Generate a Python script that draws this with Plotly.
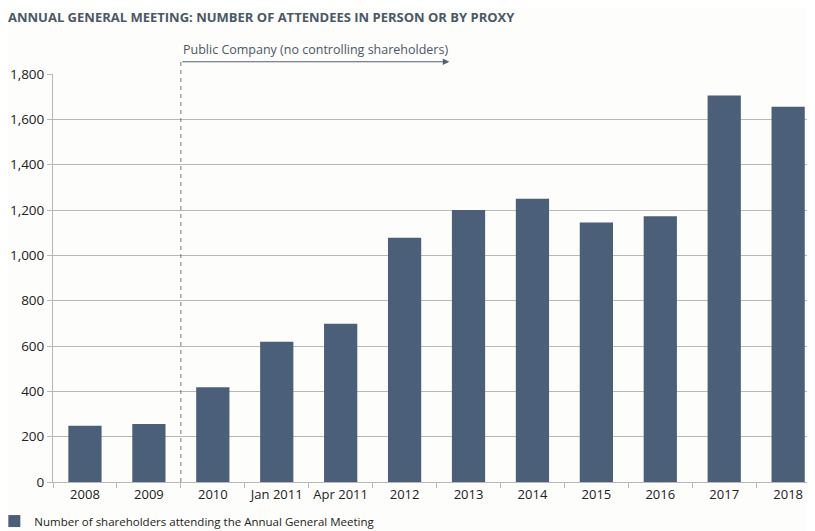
import plotly.graph_objects as go

# data
categories = ["2008", "2009", "2010", "Jan 2011", "Apr 2011", "2012",
              "2013", "2014", "2015", "2016", "2017", "2018"]
attendees = [248, 256, 418, 619, 698, 1078, 1200, 1250, 1145, 1172, 1705, 1656]
y_ticks = [0, 200, 400, 600, 800, 1000, 1200, 1400, 1600, 1800]

series_name = "Number of shareholders attending the Annual General Meeting"
title_text = "ANNUAL GENERAL MEETING: NUMBER OF ATTENDEES IN PERSON OR BY PROXY"
note_text = "Public Company (no controlling shareholders)"

bar_color = "#4c5f78"
text_color = "#222222"
title_color = "#4a5866"
grid_color = "#b8b8b8"
bg = "#fdfdfb"
font_family = "Open Sans"

fig = go.Figure()
fig.add_trace(go.Bar(
    x=categories, y=attendees, name=series_name,
    marker=dict(color=bar_color, line=dict(width=0)),
    showlegend=True,
))

# IPO marker: dashed line between 2009 and 2010, with arrow to the right
fig.add_shape(type="line", xref="x", yref="paper",
              x0=1.5, x1=1.5, y0=0, y1=1.03,
              line=dict(color="#6f7780", width=1, dash="4px,4px"))
fig.add_annotation(xref="x", yref="paper", axref="x", ayref="pixel",
                   x=5.7, y=1.03, ax=1.5, ay=0,
                   showarrow=True, arrowhead=2, arrowsize=1.3, arrowwidth=1,
                   arrowcolor="#55606c", text="")
fig.add_annotation(xref="x", yref="paper", x=1.5, y=1.061,
                   xanchor="left", yanchor="middle", showarrow=False,
                   text=note_text,
                   font=dict(family=font_family, size=12.5, color=title_color))

fig.update_layout(
    width=807, height=523,
    margin=dict(l=45, r=0, t=66, b=49, autoexpand=False),
    paper_bgcolor=bg, plot_bgcolor=bg,
    font=dict(family=font_family, size=12, color=text_color),
    bargap=0.48,
    title=dict(text="<b>" + title_text + "</b>", x=0, xref="container", xanchor="left",
               y=0.981, yref="container", yanchor="middle",
               font=dict(family=font_family, size=13, color=title_color)),
    showlegend=True,
    legend=dict(orientation="h", x=-0.077, xanchor="left",
                yref="container", y=0.019, yanchor="middle",
                bgcolor="rgba(0,0,0,0)", itemwidth=30,
                font=dict(family=font_family, size=11.5, color=text_color)),
)
fig.update_xaxes(
    type="category", range=[-0.5, 11.42],
    showgrid=False, automargin=False, tickangle=0,
    showline=True, linecolor=grid_color, linewidth=1,
    ticks="outside", tickson="boundaries", ticklen=5, tickcolor=grid_color,
    tickfont=dict(size=13, color=text_color),
)
fig.update_yaxes(
    range=[0, 1800], tickvals=y_ticks, tickformat=",", automargin=False,
    showgrid=True, gridcolor=grid_color, gridwidth=1,
    showline=True, linecolor=grid_color, linewidth=1,
    ticks="outside", ticklen=5, tickcolor=grid_color,
    zeroline=False,
    tickfont=dict(size=13.5, color=text_color),
)

fig.write_html("out.html")
